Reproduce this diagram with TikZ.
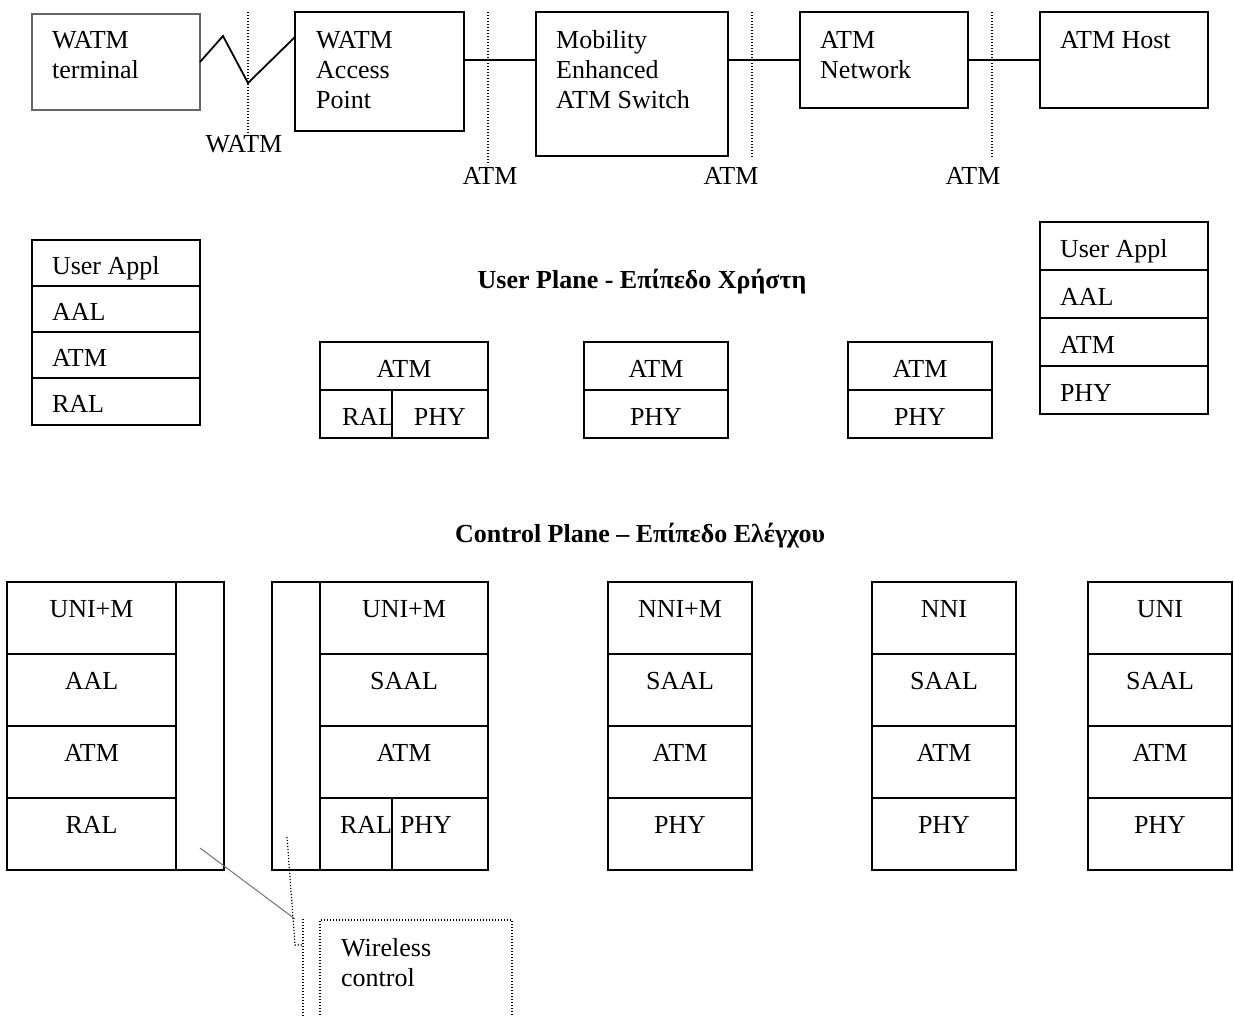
\documentclass[tikz,border=0pt]{standalone}
\usepackage{fontspec}
\setmainfont{Liberation Serif}
\usetikzlibrary{positioning}

\begin{document}
\begin{tikzpicture}[x=1pt, y=-1pt, every node/.style={font=\fontsize{26}{30}\selectfont},
  cellbox/.style={draw, line width=1.8pt, outer sep=0pt, inner sep=0pt, anchor=north west},
  devbox/.style 2 args={cellbox, minimum width=#1, minimum height=#2},
  txt/.style={inner sep=0pt, align=left},
  lcell/.style={cellbox, text width=128pt, inner xsep=20pt, align=left, minimum height=#1, text height=24pt, text depth=2pt, execute at begin node={\spaceskip=0pt\relax}},
  ccell/.style={cellbox, minimum width=#1, minimum height=48pt, text height=24pt, text depth=2pt},
  kcell/.style={cellbox, minimum width=#1, minimum height=72pt, text height=18pt, text depth=20pt},
  colbox/.style={cellbox, minimum width=48pt, minimum height=288pt},
  title/.style={font=\fontsize{26}{30}\selectfont\bfseries, anchor=base},
  iflabel/.style={inner sep=1pt, anchor=base},
  link/.style={line width=1.8pt},
  divider/.style={line width=1.2pt, dash pattern=on 1.2pt off 1.8pt},
  pointer/.style={draw=black!55, line width=1pt}]
  \useasboundingbox (0,0) rectangle (1234,1015);

  % devices along the path
  \node[devbox={168pt}{96pt}, draw=black!60, line width=1.3pt] (term) at (32,14) {};
  \node[devbox={169pt}{119pt}] (ap) at (295,12) {};
  \node[devbox={192pt}{144pt}] (sw) at (536,12) {};
  \node[devbox={168pt}{96pt}] (net) at (800,12) {};
  \node[devbox={168pt}{96pt}] (host) at (1040,12) {};
  \node[txt, below right=17pt and 20pt of term.north west] (termtxt) {WATM\\terminal};
  \node[txt, below right=19pt and 21pt of ap.north west] (aptxt) {WATM\\Access\\Point};
  \node[txt, below right=18pt and 20pt of sw.north west] (swtxt) {Mobility\\Enhanced\\ATM Switch};
  \node[txt, below right=19pt and 20pt of net.north west] (nettxt) {ATM\\Network};
  \node[txt, below right=19pt and 20pt of host.north west] (hosttxt) {ATM Host};

  \draw[link] (term.east) -- (223,36) -- (248,83) -- ([yshift=-25pt]ap.north west);
  \draw[link] (ap.east |- net.west) -- (sw.west |- net.west);
  \draw[link] (sw.east |- net.west) -- (net.west);
  \draw[link] (net.east) -- (host.west);

  % interfaces
  \draw[divider] (248,12) -- (248,133);
  \draw[divider] (488,12) -- (488,165);
  \draw[divider] (752,12) -- (752,157);
  \draw[divider] (992,12) -- (992,157);
  \node[iflabel] (ifw) at (244,152) {WATM};
  \node[iflabel] (if1) at (490,184) {ATM};
  \node[iflabel] (if2) at (731,184) {ATM};
  \node[iflabel] (if3) at (973,184) {ATM};

  % user plane
  \node[title] (uptitle) at (642,288) {User Plane - Επίπεδο Χρήστη};
  \node[lcell=46pt] (ul1) at (32,240) {User Appl};
  \node[lcell=46pt, below=0pt of ul1] (ul2) {AAL};
  \node[lcell=46pt, below=0pt of ul2] (ul3) {ATM};
  \node[lcell=47pt, below=0pt of ul3] (ul4) {RAL};

  \node[ccell=168pt] (um1) at (320,342) {ATM};
  \node[ccell=72pt] (um1r) at (um1.south west) {\makebox[28pt][l]{RAL}};
  \node[ccell=96pt, right=0pt of um1r] (um1p) {PHY};
  \node[ccell=144pt] (um2) at (584,342) {ATM};
  \node[ccell=144pt, below=0pt of um2] (um2p) {PHY};
  \node[ccell=144pt] (um3) at (848,342) {ATM};
  \node[ccell=144pt, below=0pt of um3] (um3p) {PHY};

  \node[lcell=48pt] (ur1) at (1040,222) {User Appl};
  \node[lcell=48pt, below=0pt of ur1] (ur2) {AAL};
  \node[lcell=48pt, below=0pt of ur2] (ur3) {ATM};
  \node[lcell=48pt, below=0pt of ur3] (ur4) {PHY};

  % control plane
  \node[title] (cptitle) at (640,542) {Control Plane – Επίπεδο Ελέγχου};
  \node[kcell=169pt] (ca1) at (7,582) {UNI+M};
  \node[kcell=169pt, below=0pt of ca1] (ca2) {AAL};
  \node[kcell=169pt, below=0pt of ca2] (ca3) {ATM};
  \node[kcell=169pt, below=0pt of ca3] (ca4) {RAL};
  \node[colbox] (cacol) at (ca1.north east) {};

  \node[colbox] (cbcol) at (272,582) {};
  \node[kcell=168pt] (cb1) at (cbcol.north east) {UNI+M};
  \node[kcell=168pt, below=0pt of cb1] (cb2) {SAAL};
  \node[kcell=168pt, below=0pt of cb2] (cb3) {ATM};
  \node[kcell=72pt] (cb4r) at (cb3.south west) {\makebox[32pt][l]{RAL}};
  \node[kcell=96pt, right=0pt of cb4r] (cb4p) {\makebox[80pt][l]{PHY}};

  \node[kcell=144pt] (cc1) at (608,582) {NNI+M};
  \node[kcell=144pt, below=0pt of cc1] (cc2) {SAAL};
  \node[kcell=144pt, below=0pt of cc2] (cc3) {ATM};
  \node[kcell=144pt, below=0pt of cc3] (cc4) {PHY};

  \node[kcell=144pt] (cd1) at (872,582) {NNI};
  \node[kcell=144pt, below=0pt of cd1] (cd2) {SAAL};
  \node[kcell=144pt, below=0pt of cd2] (cd3) {ATM};
  \node[kcell=144pt, below=0pt of cd3] (cd4) {PHY};

  \node[kcell=144pt] (ce1) at (1088,582) {UNI};
  \node[kcell=144pt, below=0pt of ce1] (ce2) {SAAL};
  \node[kcell=144pt, below=0pt of ce2] (ce3) {ATM};
  \node[kcell=144pt, below=0pt of ce3] (ce4) {PHY};

  % wireless control callout
  \node[cellbox, divider, minimum width=192pt, minimum height=110pt] (wl) at (320,920) {};
  \node[txt, below right=18pt and 21pt of wl.north west] (wltxt) {Wireless\\control};
  \coordinate (wla) at (200,848);
  \coordinate (wlb) at (295,919);
  \coordinate (brk1) at (287,837);
  \coordinate (brk2) at (295,945);
  \coordinate (brk3) at (303,945);
  \coordinate (brk4) at (303,919);
  \coordinate (brk5) at (303,1030);
  \draw[pointer] (wla) -- (wlb);
  \draw[divider] (brk1) -- (brk2) -- (brk3);
  \draw[divider] (brk4) -- (brk5);
\end{tikzpicture}
\end{document}
